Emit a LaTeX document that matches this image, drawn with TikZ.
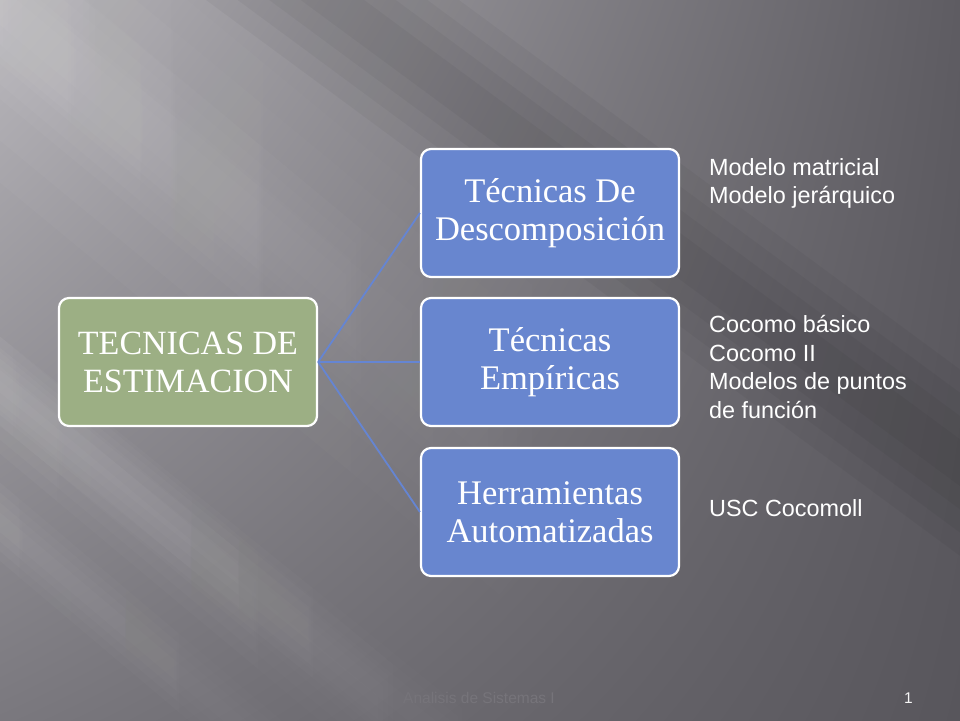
\documentclass[tikz,border=0pt]{standalone}
\usepackage{fontspec}
\setmainfont{Liberation Serif}
\setsansfont{Liberation Sans}
\usetikzlibrary{shadings,fadings}
\definecolor{bgUL}{HTML}{B4B2B7}
\definecolor{bgUR}{HTML}{5E5C62}
\definecolor{bgLL}{HTML}{7A787E}
\definecolor{bgLR}{HTML}{58565C}
\definecolor{greenbox}{HTML}{9CAF84}
\definecolor{bluebox}{HTML}{6886CF}
\definecolor{linkblue}{HTML}{6585D3}
\definecolor{footgray}{HTML}{76747A}
\tikzfading[name=lenfade, left color=transparent!0, right color=transparent!100]
\newcommand{\softband}[6]{%
  \begin{scope}[shift={(#1,#2)}, rotate=-#3]
  \foreach \k in {1,0.75,0.5,0.25}{%
    \fill[#6, opacity=0.04, path fading=lenfade, fit fading=true] (0,-\k*#5/2) rectangle (#4,\k*#5/2);}
  \end{scope}}
\newcommand{\darkband}[6]{%
  \begin{scope}[shift={(#1,#2)}, rotate=-#3]
  \foreach \k in {1,0.75,0.5,0.25}{%
    \fill[#6, opacity=0.035] (0,-\k*#5/2) rectangle (#4,\k*#5/2);}
  \end{scope}}
\tikzset{
  mainbox/.style={draw=white, line width=2.2pt, rounded corners=10pt, minimum width=258pt, minimum height=128pt, align=center, text=white, font=\fontsize{34}{38}\selectfont},
  bluebox/.style={mainbox, fill=bluebox, font=\fontsize{34.5}{38}\selectfont},
  link/.style={draw=linkblue, line width=1.8pt},
  sidetext/.style={anchor=north west, align=left, text=white, font=\sffamily\fontsize{23.4}{28.6}\selectfont, inner sep=0pt}
}
\begin{document}
\begin{tikzpicture}[x=1pt,y=-1pt]
\useasboundingbox (0,0) rectangle (960,720);
% background
\begin{scope}
\clip (0,0) rectangle (960,720);
\shade[upper left=bgUL, upper right=bgUR, lower left=bgLL, lower right=bgLR] (0,0) rectangle (960,720);
\softband{-150}{-110}{39.5}{950}{260}{white}
\softband{-150}{-120}{39.8}{850}{120}{white}
\darkband{-400}{-540}{36.4}{2000}{150}{black}
\softband{-150}{270}{39.8}{800}{90}{white}
\softband{-150}{260}{38.8}{900}{70}{white}
\softband{-150}{395}{40.2}{650}{60}{white}
\end{scope}
% nodes
\node[mainbox, fill=greenbox] (root) at (188,362) {TECNICAS DE\\ESTIMACION};
\node[bluebox] (b1) at (550,213) {Técnicas De\\Descomposición};
\node[bluebox] (b2) at (550,362) {Técnicas\\Empíricas};
\node[bluebox] (b3) at (550,512) {Herramientas\\Automatizadas};
% connectors
\draw[link] (root.east) -- (b1.west);
\draw[link] (root.east) -- (b2.west);
\draw[link] (root.east) -- (b3.west);
% side texts
\node[sidetext] (t1) at (709,158) {Modelo matricial\\Modelo jerárquico};
\node[sidetext] (t2) at (709,315) {Cocomo básico\\Cocomo II\\Modelos de puntos\\de función};
\node[sidetext] (t3) at (709,499) {USC Cocomoll};
% footer
\node[text=footgray, font=\sffamily\fontsize{15.5}{18}\selectfont, anchor=west, inner sep=0pt] (foot) at (403,698) {Analisis de Sistemas I};
\node[text=white!92!gray, font=\sffamily\fontsize{15.5}{18}\selectfont, anchor=east, inner sep=0pt] (num) at (913,698) {1};
\end{tikzpicture}
\end{document}
